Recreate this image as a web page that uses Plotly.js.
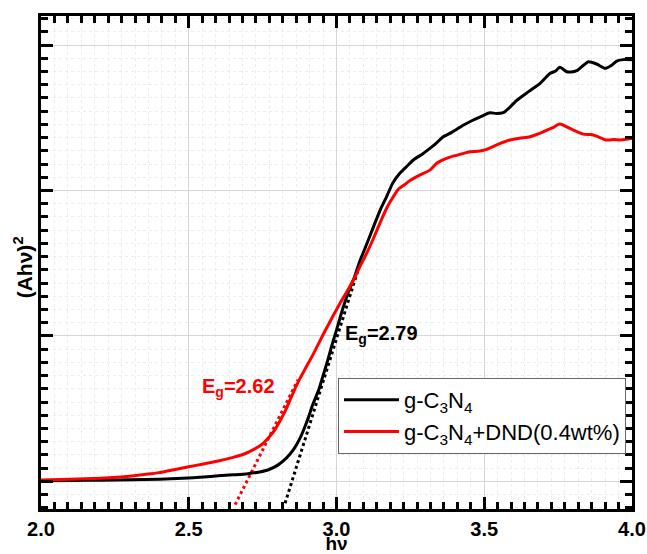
<!DOCTYPE html>
<html>
<head>
<meta charset="utf-8">
<script src="https://cdn.plot.ly/plotly-3.0.1.min.js"></script>
<style>html,body{margin:0;padding:0;background:#fff;}#chart{width:647px;height:554px;}</style>
</head>
<body>
<div id="chart"></div>
<script>
// g-C3N4 (black)
const xBlack = [2.00,2.10,2.20,2.30,2.40,2.48,2.55,2.60,2.65,2.70,2.74,2.77,2.80,2.83,2.855,2.875,2.89,2.905,2.92,2.94,2.955,2.97,2.985,3.00,3.02,3.04,3.06,3.08,3.10,3.125,3.15,3.17,3.19,3.215,3.24,3.26,3.29,3.316,3.34,3.361,3.39,3.43,3.463,3.49,3.519,3.54,3.564,3.585,3.61,3.65,3.689,3.705,3.722,3.74,3.756,3.779,3.795,3.813,3.835,3.852,3.88,3.909,3.93,3.948,3.97,4.00];
const yBlack = [0.005,0.006,0.008,0.011,0.015,0.022,0.030,0.038,0.045,0.053,0.065,0.080,0.110,0.160,0.220,0.290,0.360,0.440,0.530,0.630,0.730,0.830,0.940,1.040,1.180,1.300,1.400,1.520,1.620,1.750,1.875,1.960,2.050,2.120,2.170,2.210,2.250,2.290,2.330,2.370,2.400,2.450,2.485,2.510,2.535,2.530,2.535,2.570,2.620,2.680,2.737,2.770,2.805,2.820,2.847,2.817,2.815,2.824,2.860,2.885,2.870,2.840,2.860,2.890,2.900,2.900];
// g-C3N4+DND(0.4wt%) (red)
const xRed = [2.00,2.10,2.20,2.30,2.35,2.40,2.45,2.50,2.55,2.60,2.65,2.69,2.72,2.745,2.77,2.79,2.81,2.828,2.843,2.86,2.877,2.893,2.92,2.955,2.985,3.012,3.034,3.057,3.08,3.10,3.125,3.15,3.17,3.19,3.21,3.23,3.25,3.283,3.316,3.339,3.36,3.384,3.42,3.452,3.48,3.508,3.55,3.587,3.62,3.655,3.70,3.73,3.756,3.79,3.835,3.86,3.88,3.914,3.94,3.959,3.98,4.00];
const yRed = [0.010,0.015,0.022,0.035,0.047,0.060,0.080,0.100,0.120,0.140,0.165,0.190,0.220,0.250,0.300,0.350,0.420,0.490,0.560,0.640,0.710,0.770,0.870,1.010,1.125,1.225,1.300,1.385,1.480,1.560,1.670,1.790,1.880,1.950,2.010,2.040,2.070,2.107,2.140,2.187,2.210,2.230,2.250,2.267,2.270,2.283,2.320,2.347,2.360,2.370,2.404,2.430,2.457,2.427,2.388,2.385,2.374,2.347,2.350,2.347,2.352,2.360];
// tangent lines
const xTanBlack = [2.826, 3.08];
const yTanBlack = [-0.15, 1.50];
const xTanRed = [2.657, 2.87];
const yTanRed = [-0.16, 0.70];
const xTicks = [2.0, 2.5, 3.0, 3.5, 4.0];
const xTickText = ['2.0','2.5','3.0','3.5','4.0'];
const seriesNames = ['g-C<sub>3</sub>N<sub>4</sub>', 'g-C<sub>3</sub>N<sub>4</sub>+DND(0.4wt%)'];
const egLabels = ['E<sub>g</sub>=2.79', 'E<sub>g</sub>=2.62'];
const yTitle = '(Ahν)<sup>2</sup>';
const xTitle = 'hν';

const FONT = 'Liberation Sans, Arial, sans-serif';
const RED = '#f00';

const traces = [
  {x: xTanBlack, y: yTanBlack, mode: 'lines', line: {color: '#000', width: 3, dash: 'dot'}, showlegend: false, hoverinfo: 'skip'},
  {x: xTanRed, y: yTanRed, mode: 'lines', line: {color: RED, width: 3, dash: 'dot'}, showlegend: false, hoverinfo: 'skip'},
  {x: xBlack, y: yBlack, mode: 'lines', name: seriesNames[0], line: {color: '#000', width: 3, shape: 'spline', smoothing: 0.6}},
  {x: xRed, y: yRed, mode: 'lines', name: seriesNames[1], line: {color: RED, width: 3, shape: 'spline', smoothing: 0.6}}
];

const axisCommon = {
  showline: true, linecolor: '#000', linewidth: 3, mirror: 'allticks',
  ticks: 'inside', ticklen: 12, tickwidth: 3, tickcolor: '#000',
  showgrid: true, gridcolor: '#d6d6d6', gridwidth: 1, zeroline: false,
};

const layout = {
  width: 647, height: 554,
  margin: {l: 41, r: 15, t: 16, b: 45},
  paper_bgcolor: '#fff', plot_bgcolor: '#fff',
  font: {family: FONT, size: 20, color: '#000'},
  showlegend: true,
  xaxis: Object.assign({}, axisCommon, {
    range: [2.0, 4.0], tickvals: xTicks, ticktext: xTickText,
    tickfont: {family: FONT, size: 20, weight: 'bold'},
    minor: {dtick: 0.5/11, tick0: 2.0, ticks: 'inside', ticklen: 7, tickwidth: 3, tickcolor: '#000', showgrid: true, gridcolor: '#ececec', griddash: 'dot', gridwidth: 1},
    title: {text: xTitle, font: {family: FONT, size: 19, weight: 'bold'}, standoff: 5}
  }),
  yaxis: Object.assign({}, axisCommon, {
    range: [-0.19, 3.2], dtick: 1, tick0: 0, showticklabels: false,
    minor: {dtick: 1/11, tick0: 0, ticks: 'inside', ticklen: 7, tickwidth: 3, tickcolor: '#000', showgrid: true, gridcolor: '#ececec', griddash: 'dot', gridwidth: 1},
    title: {text: ''}
  }),
  legend: {
    x: 0.5025, y: 0.2657, xanchor: 'left', yanchor: 'top',
    bgcolor: '#fff', bordercolor: '#666', borderwidth: 1,
    font: {family: FONT, size: 22}, itemwidth: 55, tracegroupgap: 0
  },
  annotations: [
    {x: -0.029, y: 0.49, xref: 'paper', yref: 'paper', xanchor: 'center', yanchor: 'middle', textangle: -90, text: yTitle, showarrow: false, font: {family: FONT, size: 21, color: '#000', weight: 'bold'}},
    {x: 3.022, y: 1.01, xref: 'x', yref: 'y', xanchor: 'left', yanchor: 'middle', text: egLabels[0], showarrow: false, font: {family: FONT, size: 20, color: '#000', weight: 'bold'}},
    {x: 2.667, y: 0.645, xref: 'x', yref: 'y', xanchor: 'center', yanchor: 'middle', text: egLabels[1], showarrow: false, font: {family: FONT, size: 20, color: RED, weight: 'bold'}}
  ]
};

Plotly.newPlot('chart', traces, layout, {displayModeBar: false, staticPlot: true});
</script>
</body>
</html>
